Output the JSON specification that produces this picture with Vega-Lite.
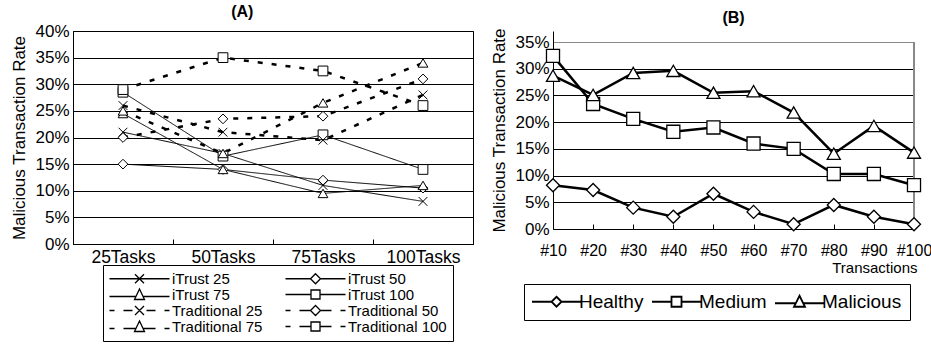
{
  "$schema": "https://vega.github.io/schema/vega-lite/v6.json",
  "padding": {"left": 10, "top": 3, "right": 0, "bottom": 0},
  "background": "white",
  "config": {
    "font": "Liberation Sans",
    "axis": {"domainColor": "black", "tickColor": "black", "labelColor": "black", "titleColor": "black", "gridColor": "black", "labelFont": "Liberation Sans", "titleFont": "Liberation Sans", "titleFontWeight": "normal"},
    "legend": {"labelFont": "Liberation Sans", "labelColor": "black"},
    "title": {"font": "Liberation Sans", "color": "black", "fontWeight": "bold", "fontSize": 16},
    "concat": {"spacing": 16}
  },
  "hconcat": [
    {
      "width": 400,
      "height": 213,
      "title": {"text": "(A)", "offset": 2, "frame": "bounds"},
      "view": {"stroke": "black"},
      "data": {"values": [
        {"series": "iTrust 25", "kind": "iTrust", "task": "25Tasks", "v": 0.21},
        {"series": "iTrust 25", "kind": "iTrust", "task": "50Tasks", "v": 0.17},
        {"series": "iTrust 25", "kind": "iTrust", "task": "75Tasks", "v": 0.11},
        {"series": "iTrust 25", "kind": "iTrust", "task": "100Tasks", "v": 0.08},
        {"series": "iTrust 50", "kind": "iTrust", "task": "25Tasks", "v": 0.15},
        {"series": "iTrust 50", "kind": "iTrust", "task": "50Tasks", "v": 0.14},
        {"series": "iTrust 50", "kind": "iTrust", "task": "75Tasks", "v": 0.12},
        {"series": "iTrust 50", "kind": "iTrust", "task": "100Tasks", "v": 0.105},
        {"series": "iTrust 75", "kind": "iTrust", "task": "25Tasks", "v": 0.245},
        {"series": "iTrust 75", "kind": "iTrust", "task": "50Tasks", "v": 0.14},
        {"series": "iTrust 75", "kind": "iTrust", "task": "75Tasks", "v": 0.095},
        {"series": "iTrust 75", "kind": "iTrust", "task": "100Tasks", "v": 0.11},
        {"series": "iTrust 100", "kind": "iTrust", "task": "25Tasks", "v": 0.285},
        {"series": "iTrust 100", "kind": "iTrust", "task": "50Tasks", "v": 0.165},
        {"series": "iTrust 100", "kind": "iTrust", "task": "75Tasks", "v": 0.205},
        {"series": "iTrust 100", "kind": "iTrust", "task": "100Tasks", "v": 0.14},
        {"series": "Traditional 25", "kind": "Traditional", "task": "25Tasks", "v": 0.26},
        {"series": "Traditional 25", "kind": "Traditional", "task": "50Tasks", "v": 0.21},
        {"series": "Traditional 25", "kind": "Traditional", "task": "75Tasks", "v": 0.195},
        {"series": "Traditional 25", "kind": "Traditional", "task": "100Tasks", "v": 0.28},
        {"series": "Traditional 50", "kind": "Traditional", "task": "25Tasks", "v": 0.2},
        {"series": "Traditional 50", "kind": "Traditional", "task": "50Tasks", "v": 0.235},
        {"series": "Traditional 50", "kind": "Traditional", "task": "75Tasks", "v": 0.24},
        {"series": "Traditional 50", "kind": "Traditional", "task": "100Tasks", "v": 0.31},
        {"series": "Traditional 75", "kind": "Traditional", "task": "25Tasks", "v": 0.25},
        {"series": "Traditional 75", "kind": "Traditional", "task": "50Tasks", "v": 0.17},
        {"series": "Traditional 75", "kind": "Traditional", "task": "75Tasks", "v": 0.265},
        {"series": "Traditional 75", "kind": "Traditional", "task": "100Tasks", "v": 0.34},
        {"series": "Traditional 100", "kind": "Traditional", "task": "25Tasks", "v": 0.29},
        {"series": "Traditional 100", "kind": "Traditional", "task": "50Tasks", "v": 0.35},
        {"series": "Traditional 100", "kind": "Traditional", "task": "75Tasks", "v": 0.325},
        {"series": "Traditional 100", "kind": "Traditional", "task": "100Tasks", "v": 0.26}
      ]},
      "encoding": {
        "x": {"field": "task", "type": "ordinal", "sort": ["25Tasks", "50Tasks", "75Tasks", "100Tasks"],
              "scale": {"type": "band", "paddingInner": 0, "paddingOuter": 0},
              "axis": {"title": null, "labelAngle": 0, "labelFontSize": 17.5, "tickBand": "extent", "tickSize": -5, "labelPadding": 9, "domainColor": "black", "grid": false}},
        "y": {"field": "v", "type": "quantitative",
              "scale": {"domain": [0, 0.4]},
              "axis": {"title": "Malicious Transaction Rate", "titleFontSize": 17, "titlePadding": 6, "format": ".0%", "values": [0, 0.05, 0.1, 0.15, 0.2, 0.25, 0.3, 0.35, 0.4], "labelFontSize": 17, "ticks": false, "labelPadding": 4, "grid": true, "gridColor": "black", "gridOpacity": 1}}
      },
      "layer": [
        {
          "mark": {"type": "line", "color": "black"},
          "encoding": {
            "detail": {"field": "series"},
            "strokeDash": {"field": "kind", "type": "nominal", "scale": {"domain": ["iTrust", "Traditional"], "range": [[1, 0], [5, 9]]}, "legend": null},
            "strokeWidth": {"field": "kind", "type": "nominal", "scale": {"domain": ["iTrust", "Traditional"], "range": [1, 2.5]}, "legend": null}
          }
        },
        {
          "mark": {"type": "point", "filled": true, "fill": "white", "stroke": "black", "strokeWidth": 1, "opacity": 1, "size": 95},
          "encoding": {
            "shape": {"field": "series", "type": "nominal",
                      "scale": {"domain": ["iTrust 25", "iTrust 50", "iTrust 75", "iTrust 100", "Traditional 25", "Traditional 50", "Traditional 75", "Traditional 100"],
                                "range": ["M-0.9,-0.9L0.9,0.9M-0.9,0.9L0.9,-0.9", "diamond", "triangle-up", "square", "M-0.9,-0.9L0.9,0.9M-0.9,0.9L0.9,-0.9", "diamond", "triangle-up", "square"]},
                      "legend": null}
          }
        },
        {
          "transform": [{"filter": "false"}],
          "mark": {"type": "point", "filled": false, "color": "black"},
          "encoding": {
            "shape": {"field": "series", "type": "nominal",
                      "scale": {"domain": ["iTrust 25", "iTrust 50", "iTrust 75", "iTrust 100", "Traditional 25", "Traditional 50", "Traditional 75", "Traditional 100"],
                                "range": [
                                  "M-6,0L6,0M-0.9,-0.9L0.9,0.9M-0.9,0.9L0.9,-0.9",
                                  "M-6,0L-1,0M1,0L6,0M0,-1L1,0L0,1L-1,0Z",
                                  "M-6,0.4L-0.75,0.4M0.75,0.4L6,0.4M0,-1.1L1,1L-1,1Z",
                                  "M-6,0L-0.9,0M0.9,0L6,0M-0.9,-0.9L0.9,-0.9L0.9,0.9L-0.9,0.9Z",
                                  "M-6,0L-5,0M-3.2,0L-1.4,0M1.4,0L3.2,0M5,0L6,0M-0.9,-0.9L0.9,0.9M-0.9,0.9L0.9,-0.9",
                                  "M-6,0L-5,0M-3.2,0L-1,0M1,0L3.2,0M5,0L6,0M0,-1L1,0L0,1L-1,0Z",
                                  "M-6,0.4L-5,0.4M-3.2,0.4L-0.75,0.4M0.75,0.4L3.2,0.4M5,0.4L6,0.4M0,-1.1L1,1L-1,1Z",
                                  "M-6,0L-5,0M-3.2,0L-0.9,0M0.9,0L3.2,0M5,0L6,0M-0.9,-0.9L0.9,-0.9L0.9,0.9L-0.9,0.9Z"
                                ]},
                      "legend": {"title": null, "orient": "none", "legendX": 30, "legendY": 234, "direction": "horizontal", "columns": 2, "symbolSize": 100, "symbolStrokeColor": "black", "symbolFillColor": "white", "symbolStrokeWidth": 1.3, "symbolOpacity": 1, "labelFontSize": 15, "labelLimit": 300, "symbolOffset": 23, "labelOffset": 25, "rowPadding": -5, "columnPadding": 19, "padding": 6, "strokeColor": "black"}}
          }
        }
      ],
      "resolve": {"scale": {"shape": "independent"}, "legend": {"shape": "independent"}}
    },
    {
      "width": 361,
      "height": 198,
      "title": {"text": "(B)", "offset": 2},
      "view": {"stroke": null},
      "data": {"values": [
        {"group": "Healthy", "t": "#10", "v": 0.082},
        {"group": "Healthy", "t": "#20", "v": 0.073},
        {"group": "Healthy", "t": "#30", "v": 0.04},
        {"group": "Healthy", "t": "#40", "v": 0.023},
        {"group": "Healthy", "t": "#50", "v": 0.066},
        {"group": "Healthy", "t": "#60", "v": 0.032},
        {"group": "Healthy", "t": "#70", "v": 0.009},
        {"group": "Healthy", "t": "#80", "v": 0.045},
        {"group": "Healthy", "t": "#90", "v": 0.023},
        {"group": "Healthy", "t": "#100", "v": 0.009},
        {"group": "Medium", "t": "#10", "v": 0.324},
        {"group": "Medium", "t": "#20", "v": 0.234},
        {"group": "Medium", "t": "#30", "v": 0.206},
        {"group": "Medium", "t": "#40", "v": 0.182},
        {"group": "Medium", "t": "#50", "v": 0.19},
        {"group": "Medium", "t": "#60", "v": 0.16},
        {"group": "Medium", "t": "#70", "v": 0.15},
        {"group": "Medium", "t": "#80", "v": 0.103},
        {"group": "Medium", "t": "#90", "v": 0.103},
        {"group": "Medium", "t": "#100", "v": 0.082},
        {"group": "Malicious", "t": "#10", "v": 0.287},
        {"group": "Malicious", "t": "#20", "v": 0.251},
        {"group": "Malicious", "t": "#30", "v": 0.292},
        {"group": "Malicious", "t": "#40", "v": 0.296},
        {"group": "Malicious", "t": "#50", "v": 0.255},
        {"group": "Malicious", "t": "#60", "v": 0.258},
        {"group": "Malicious", "t": "#70", "v": 0.218},
        {"group": "Malicious", "t": "#80", "v": 0.141},
        {"group": "Malicious", "t": "#90", "v": 0.193},
        {"group": "Malicious", "t": "#100", "v": 0.143}
      ]},
      "encoding": {
        "x": {"field": "t", "type": "ordinal", "sort": ["#10", "#20", "#30", "#40", "#50", "#60", "#70", "#80", "#90", "#100"],
              "scale": {"type": "point", "padding": 0},
              "axis": {"title": "Transactions", "titleFontSize": 15, "titleAnchor": "end", "titleAlign": "right", "titlePadding": 2, "titleX": 364, "labelAngle": 0, "labelFontSize": 16, "tickSize": -5, "labelPadding": 18, "grid": false, "labelOverlap": false}},
        "y": {"field": "v", "type": "quantitative",
              "scale": {"domain": [0, 0.3706], "nice": false},
              "axis": {"title": "Malicious Transaction Rate", "titleFontSize": 17, "titlePadding": 6, "format": ".0%", "values": [0, 0.05, 0.1, 0.15, 0.2, 0.25, 0.3, 0.35], "labelFontSize": 17, "ticks": false, "labelPadding": 4, "grid": true,
                       "gridColor": {"condition": {"test": "datum.value >= 0.35", "value": "#888888"}, "value": "black"}}}
      },
      "layer": [
        {
          "mark": {"type": "rule", "color": "#888888", "strokeWidth": 1},
          "encoding": {"x": {"datum": "#100"}, "y": {"datum": 0}, "y2": {"datum": 0.35}}
        },
        {
          "mark": {"type": "line", "color": "black", "strokeWidth": 2.5},
          "encoding": {"detail": {"field": "group"}}
        },
        {
          "mark": {"type": "point", "filled": true, "fill": "white", "stroke": "black", "strokeWidth": 1.3, "opacity": 1, "size": 170},
          "encoding": {
            "shape": {"field": "group", "type": "nominal",
                      "scale": {"domain": ["Healthy", "Medium", "Malicious"], "range": ["diamond", "square", "triangle-up"]},
                      "legend": null}
          }
        },
        {
          "transform": [{"filter": "false"}],
          "mark": {"type": "point", "filled": false, "color": "black"},
          "encoding": {
            "shape": {"field": "group", "type": "nominal",
                      "scale": {"domain": ["Healthy", "Medium", "Malicious"],
                                "range": [
                                  "M-4.9,0L-1,0M1,0L4.9,0M0,-1L1,0L0,1L-1,0Z",
                                  "M-4.9,0L-1,0M1,0L4.9,0M-1,-1L1,-1L1,1L-1,1Z",
                                  "M-4.9,0.3L-0.8,0.3M0.8,0.3L4.9,0.3M0,-1.2L1.1,1L-1.1,1Z"
                                ]},
                      "legend": {"title": null, "orient": "none", "legendX": -29, "legendY": 253, "direction": "horizontal", "symbolSize": 100, "symbolStrokeColor": "black", "symbolFillColor": "white", "symbolStrokeWidth": 1.8, "symbolOpacity": 1, "labelFontSize": 19, "labelLimit": 300, "symbolOffset": 15, "labelOffset": 13, "columnPadding": 4, "padding": 8, "strokeColor": "black"}}
          }
        }
      ],
      "resolve": {"scale": {"shape": "independent"}, "legend": {"shape": "independent"}}
    }
  ]
}
